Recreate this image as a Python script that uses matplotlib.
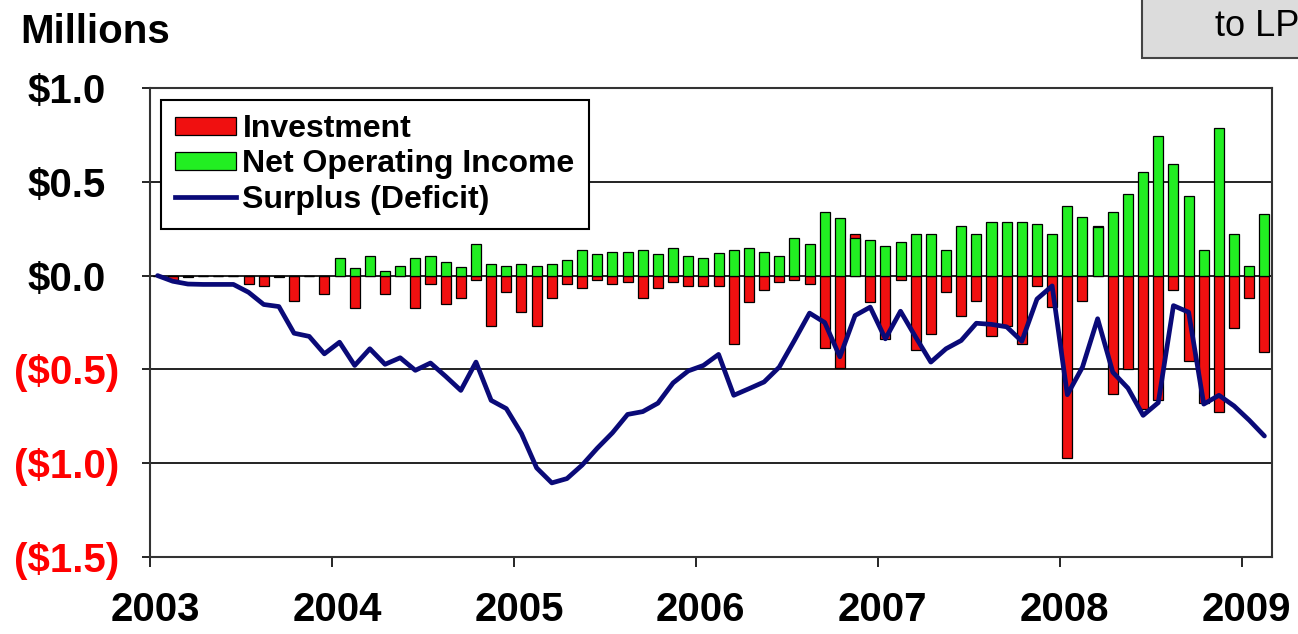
import numpy as np
import matplotlib
matplotlib.use("Agg")
import matplotlib.pyplot as plt
from matplotlib.patches import Patch, Rectangle
from matplotlib.lines import Line2D
from matplotlib.transforms import ScaledTranslation

plt.rcParams['font.family'] = ['Liberation Sans', 'DejaVu Sans']

# ---------------- data (monthly, Jan 2003 .. Feb 2009), $ millions ----------------
investment = [0.0, -0.025, -0.01, 0.0, 0.0, 0.0, -0.044, -0.057, -0.01, -0.138,
              0.0, -0.097, 0.0, -0.174, 0.0, -0.097, 0.0, -0.174, -0.044, -0.151,
              -0.121, -0.023, -0.27, -0.089, -0.195, -0.27, -0.121, -0.044, -0.067, -0.025,
              -0.044, -0.035, -0.12, -0.067, -0.035, -0.055, -0.057, -0.057, -0.365, -0.141,
              -0.076, -0.033, -0.023, -0.044, -0.385, -0.49, 0.22, -0.14, -0.34, -0.023,
              -0.395, -0.31, -0.085, -0.214, -0.138, -0.324, -0.266, -0.363, -0.053, -0.168,
              -0.972, -0.138, 0.265, -0.63, -0.50, -0.71, -0.665, -0.076, -0.457, -0.68,
              -0.727, -0.278, -0.119, -0.408]

net_operating_income = [0.0, 0.0, 0.0, 0.0, 0.0, 0.0, 0.0, 0.0, 0.0, 0.0,
                        0.0, 0.0, 0.094, 0.039, 0.105, 0.027, 0.053, 0.094, 0.106, 0.073,
                        0.048, 0.168, 0.062, 0.053, 0.062, 0.053, 0.062, 0.083, 0.137, 0.115,
                        0.126, 0.124, 0.137, 0.115, 0.146, 0.104, 0.094, 0.118, 0.137, 0.148,
                        0.126, 0.106, 0.2, 0.168, 0.337, 0.307, 0.2, 0.19, 0.158, 0.179,
                        0.22, 0.22, 0.137, 0.264, 0.22, 0.286, 0.286, 0.286, 0.275, 0.22,
                        0.37, 0.31, 0.257, 0.337, 0.434, 0.553, 0.743, 0.594, 0.424, 0.137,
                        0.786, 0.222, 0.053, 0.326]

surplus = [0.0, -0.03, -0.045, -0.047, -0.047, -0.047, -0.089, -0.154, -0.165, -0.307,
           -0.324, -0.417, -0.355, -0.479, -0.39, -0.473, -0.438, -0.505, -0.466, -0.537,
           -0.612, -0.461, -0.665, -0.709, -0.842, -1.025, -1.105, -1.082, -1.01, -0.92,
           -0.838, -0.74, -0.725, -0.68, -0.572, -0.508, -0.479, -0.42, -0.638, -0.603,
           -0.567, -0.488, -0.346, -0.2, -0.25, -0.433, -0.213, -0.168, -0.337, -0.19,
           -0.328, -0.461, -0.39, -0.346, -0.254, -0.26, -0.273, -0.35, -0.125, -0.055,
           -0.635, -0.488, -0.23, -0.515, -0.60, -0.745, -0.677, -0.16, -0.195, -0.685,
           -0.638, -0.695, -0.771, -0.855]

year_labels = ['2003', '2004', '2005', '2006', '2007', '2008', '2009']
y_ticks = [1.0, 0.5, 0.0, -0.5, -1.0, -1.5]
y_labels = ['$1.0', '$0.5', '$0.0', '($0.5)', '($1.0)', '($1.5)']
series_names = ['Investment', 'Net Operating Income', 'Surplus (Deficit)']

# ---------------- figure ----------------
W, H = 1298, 634
fig = plt.figure(figsize=(W / 100, H / 100), dpi=100)
ax = fig.add_axes([150 / W, 1 - 557 / H, (1272 - 150) / W, (557 - 88) / H])

RED = '#F01010'
GREEN = '#22EE22'
NAVY = '#0A0A78'

n = len(surplus)
x = np.arange(n) + 0.5
ax.bar(x, investment, width=0.66, color=RED, edgecolor='black', linewidth=0.9, zorder=2)
ax.bar(x, net_operating_income, width=0.66, color=GREEN, edgecolor='black', linewidth=0.9, zorder=3)
ax.plot(x, surplus, color=NAVY, lw=3.4, zorder=4, solid_joinstyle='round', solid_capstyle='round')

ax.set_xlim(0, 74)
ax.set_ylim(-1.5, 1.0)
ax.set_xticks(np.arange(len(year_labels)) * 12)
ax.set_xticklabels(year_labels)
ax.set_yticks(y_ticks)
ax.set_yticklabels(y_labels)

ax.set_axisbelow(True)
ax.yaxis.grid(True, color='#111111', lw=1.3)
for s in ax.spines.values():
    s.set_color('#333333')
    s.set_linewidth(1.5)

ax.tick_params(axis='x', direction='out', length=7.5, width=1.2, pad=17,
               labelsize=29)
ax.tick_params(axis='y', direction='out', length=6, width=1.2, pad=16,
               labelsize=29)
for lab in ax.get_xticklabels():
    lab.set_fontweight('bold')
    lab.set_transform(lab.get_transform() + ScaledTranslation(0.05, 0, fig.dpi_scale_trans))
for lab, val in zip(ax.get_yticklabels(), y_ticks):
    lab.set_fontweight('bold')
    if val < 0:
        lab.set_color('#FF0000')
    else:
        lab.set_color('black')
        lab.set_transform(lab.get_transform() + ScaledTranslation(-0.14, 0, fig.dpi_scale_trans))

# legend
handles = [Patch(facecolor=RED, edgecolor='black', linewidth=0.9),
           Patch(facecolor=GREEN, edgecolor='black', linewidth=0.9),
           Line2D([], [], color=NAVY, lw=3.4)]
leg = ax.legend(handles, series_names, loc='upper left',
                bbox_to_anchor=(161 / W, 1 - 100 / H), bbox_transform=fig.transFigure,
                borderaxespad=0, frameon=True, fancybox=False, framealpha=1,
                edgecolor='black', prop={'weight': 'bold', 'size': 23},
                handlelength=1.9, handleheight=0.5, handletextpad=0.2,
                labelspacing=0.16, borderpad=0.45)
leg.get_frame().set_linewidth(1.5)
leg.set_zorder(10)

# title-like label
fig.text(20 / W, 1 - 13 / H, 'Millions', ha='left', va='top', fontsize=29, fontweight='bold')

# cropped gray box at top right (cut by the image edge as in the source)
fig.patches.append(Rectangle((1142 / W, 1 - 58 / H), 0.3, 0.3, transform=fig.transFigure,
                             facecolor='#DCDCDC', edgecolor='#444444', linewidth=1.5, zorder=1))
fig.text(1215 / W, 1 - 27 / H, 'to LP', ha='left', va='center', fontsize=26, zorder=2)

fig.savefig('out.png', dpi=100)
